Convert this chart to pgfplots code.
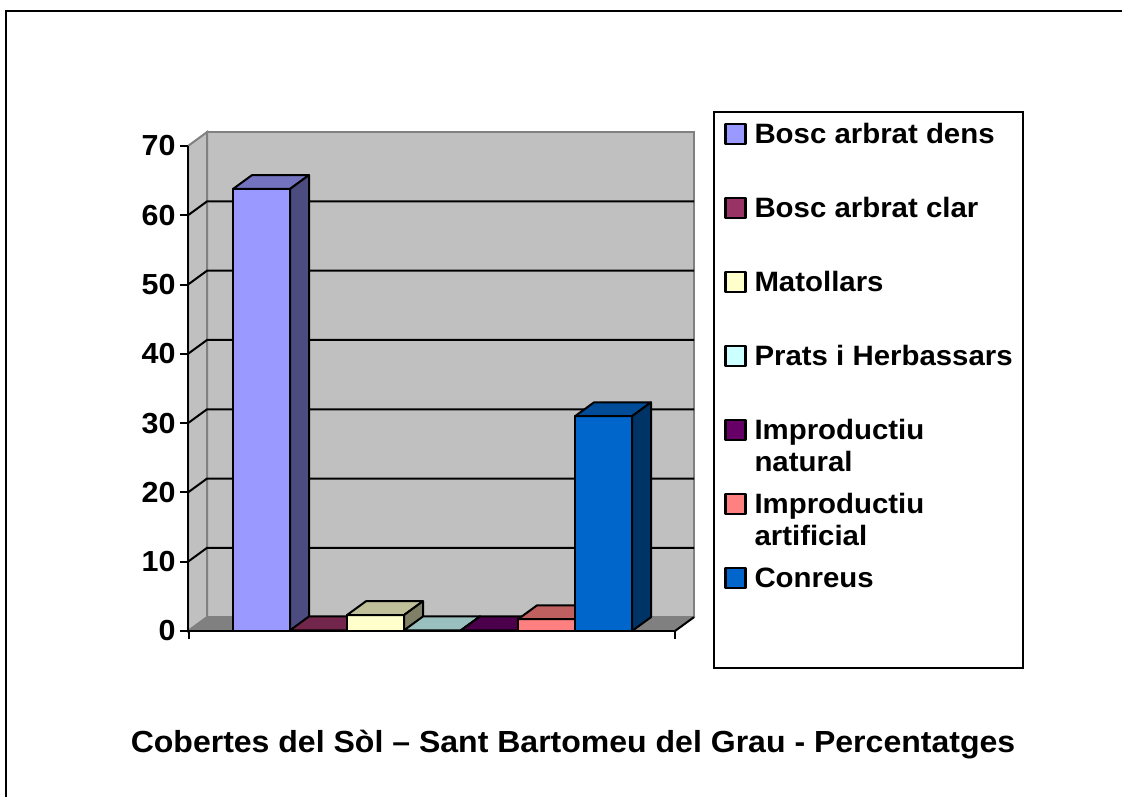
\documentclass[border=0pt]{standalone}
\usepackage{fontspec}
\setmainfont{Liberation Sans}[FakeStretch=1.05]
\usepackage{pgfplots}
\usepackage{pgfplotstable}
\pgfplotsset{compat=1.18}

\definecolor{wallgray}{HTML}{C0C0C0}
\definecolor{edgegray}{HTML}{808080}
\definecolor{floorgray}{HTML}{808080}
\definecolor{cA}{HTML}{9999FF}
\definecolor{cB}{HTML}{993366}
\definecolor{cC}{HTML}{FFFFCC}
\definecolor{cD}{HTML}{CCFFFF}
\definecolor{cE}{HTML}{660066}
\definecolor{cF}{HTML}{FF8080}
\definecolor{cG}{HTML}{0066CC}

% face templates: x offset (pt from bar left), depth shift d (y units), f = 1 if at bar top
\pgfplotstableread{
x d f
0 0 0
57 0 0
57 0 1
0 0 1
}\frontface
\pgfplotstableread{
x d f
57 0 0
76 2 0
76 2 1
57 0 1
}\sideface
\pgfplotstableread{
x d f
0 0 1
57 0 1
76 2 1
19 2 1
}\topface

% #1 = left edge of bar, #2 = value, #3 = colour
\newcommand{\cubebar}[3]{%
  \addplot[fill=#3, draw=black, line width=2pt, line join=round, mark=none]
    table[x expr=\thisrow{x}+#1, y expr=\thisrow{d}+\thisrow{f}*#2] {\frontface} -- cycle;
  \addplot[fill=#3!75!black, draw=black, line width=2pt, line join=round, mark=none, forget plot]
    table[x expr=\thisrow{x}+#1, y expr=\thisrow{d}+\thisrow{f}*#2] {\topface} -- cycle;
  \addplot[fill=#3!50!black, draw=black, line width=2pt, line join=round, mark=none, forget plot]
    table[x expr=\thisrow{x}+#1, y expr=\thisrow{d}+\thisrow{f}*#2] {\sideface} -- cycle;
}

\begin{document}
\begin{tikzpicture}
\useasboundingbox (0,0) rectangle (1122pt,796pt);
\begin{axis}[
  at={(188pt,165pt)}, anchor=south west,
  scale only axis, width=487pt, height=485pt,
  xmin=188, xmax=675, ymin=0, ymax=70,
  clip=false, axis on top,
  axis lines*=left,
  axis line style={black, line width=2pt},
  every tick/.style={black, line width=2pt},
  tick align=outside, major tick length=8pt,
  ytick={0,10,...,70},
  xtick={189,675}, xticklabels={},
  /pgf/number format/assume math mode=true,
  yticklabel style={font=\fontsize{29}{33}\selectfont\bfseries, xshift=-1pt},
  legend image code/.code={\draw[#1, line width=2.5pt] (0pt,-1pt) rectangle (20pt,19pt);},
  legend style={at={(axis cs:713,75.05)}, anchor=north west,
    draw=black, line width=2pt, inner xsep=10pt, inner ysep=4pt,
    row sep=44pt, column sep=8pt,
    nodes={font=\fontsize{28}{32}\selectfont\bfseries, text height=27pt, text depth=3pt,
      inner xsep=0pt, inner ysep=0pt, anchor=base west}},
]
% walls
\addplot[fill=wallgray, draw=edgegray, line width=2pt, forget plot]
  coordinates {(207,2) (694,2) (694,72) (207,72)} -- cycle;
\addplot[fill=wallgray, draw=edgegray, line width=2pt, forget plot]
  coordinates {(188,0) (207,2) (207,72) (188,70)} -- cycle;
\addplot[fill=floorgray, draw=edgegray, line width=1pt, forget plot]
  coordinates {(188,0) (675,0) (694,2) (207,2)} -- cycle;
\addplot[black, line width=2pt, forget plot] coordinates {(675,0) (694,2)};
% gridlines
\addplot[black, line width=2pt, forget plot] coordinates {(188,10) (207,12) (694,12)};
\addplot[black, line width=2pt, forget plot] coordinates {(188,20) (207,22) (694,22)};
\addplot[black, line width=2pt, forget plot] coordinates {(188,30) (207,32) (694,32)};
\addplot[black, line width=2pt, forget plot] coordinates {(188,40) (207,42) (694,42)};
\addplot[black, line width=2pt, forget plot] coordinates {(188,50) (207,52) (694,52)};
\addplot[black, line width=2pt, forget plot] coordinates {(188,60) (207,62) (694,62)};
% bars
\cubebar{233}{63.8}{cA}
\addlegendentry{Bosc arbrat dens}
\cubebar{290}{0.1}{cB}
\addlegendentry{Bosc arbrat clar}
\cubebar{347}{2.3}{cC}
\addlegendentry{Matollars}
\cubebar{404}{0.1}{cD}
\addlegendentry{Prats i Herbassars}
\cubebar{461}{0.1}{cE}
\addlegendentry{\begin{tabular}[t]{@{}l@{}}Improductiu\\natural\end{tabular}}
\cubebar{518}{1.7}{cF}
\addlegendentry{\begin{tabular}[t]{@{}l@{}}Improductiu\\artificial\end{tabular}}
\cubebar{575}{31.0}{cG}
\addlegendentry{Conreus}
\addlegendimage{empty legend}
\addlegendentry{}
\end{axis}
\node[font=\fontsize{30.5}{35}\selectfont\bfseries] at (573pt,51pt)
  {Cobertes del Sòl – Sant Bartomeu del Grau - Percentatges};
\draw[line width=2pt] (6pt,-5pt) -- (6pt,785pt) -- (1130pt,785pt);
\end{tikzpicture}
\end{document}
